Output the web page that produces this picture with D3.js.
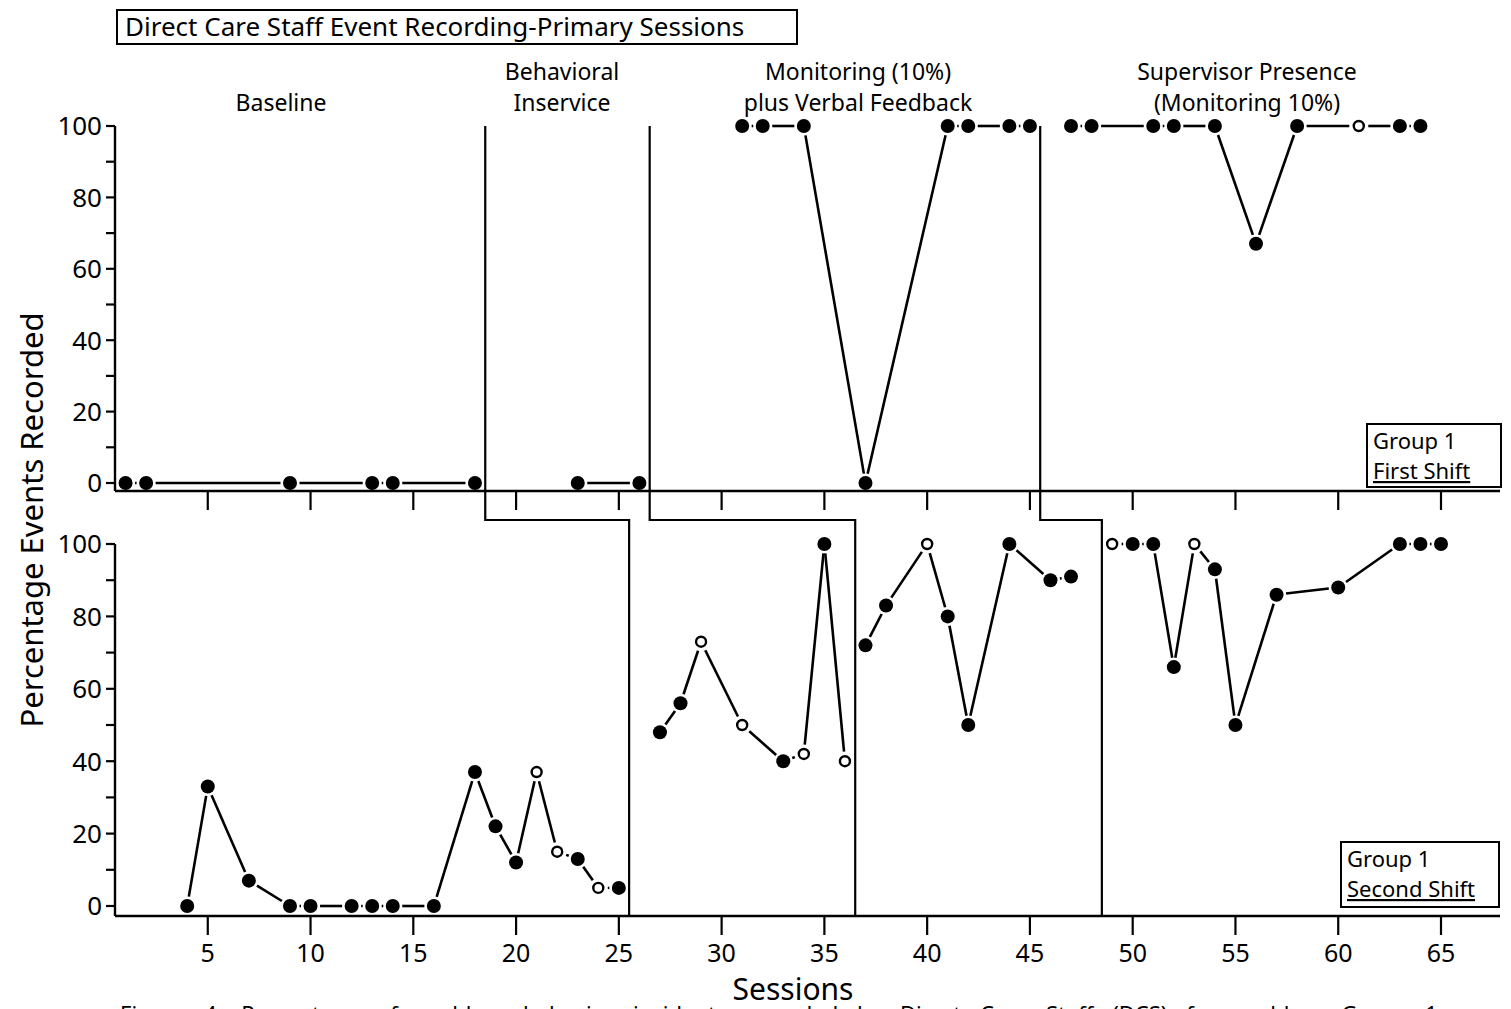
<!DOCTYPE html>
<html>
<head>
<meta charset="utf-8">
<script src="https://cdn.jsdelivr.net/npm/d3@7"></script>
<style>
  html, body { margin: 0; padding: 0; background: #fff; overflow: hidden; }
  svg { display: block; font-family: "Noto Sans", "DejaVu Sans", sans-serif; }
</style>
</head>
<body>
<div id="chart"></div>
<script>
// first shift (top panel)
const firstSessions = [1, 2, 9, 13, 14, 18, 23, 26, 31, 32, 34, 37, 41, 42, 44, 45, 47, 48, 51, 52, 54, 56, 58, 61, 63, 64];
const firstValues   = [0, 0, 0, 0, 0, 0, 0, 0, 100, 100, 100, 0, 100, 100, 100, 100, 100, 100, 100, 100, 100, 67, 100, 100, 100, 100];
const firstOpen     = [61];
const firstPhaseLines = [18.5, 26.5, 45.5];

// second shift (bottom panel)
const secondSessions = [4, 5, 7, 9, 10, 12, 13, 14, 16, 18, 19, 20, 21, 22, 23, 24, 25,
  27, 28, 29, 31, 33, 34, 35, 36,
  37, 38, 40, 41, 42, 44, 46, 47,
  49, 50, 51, 52, 53, 54, 55, 57, 60, 63, 64, 65];
const secondValues = [0, 33, 7, 0, 0, 0, 0, 0, 0, 37, 22, 12, 37, 15, 13, 5, 5,
  48, 56, 73, 50, 40, 42, 100, 40,
  72, 83, 100, 80, 50, 100, 90, 91,
  100, 100, 100, 66, 100, 93, 50, 86, 88, 100, 100, 100];
const secondOpen = [21, 22, 24, 29, 31, 34, 36, 40, 49, 53];
const secondPhaseLines = [25.5, 36.5, 48.5];

// phase titles
const phaseNames = [["Baseline"], ["Behavioral", "Inservice"], ["Monitoring (10%)", "plus Verbal Feedback"], ["Supervisor Presence", "(Monitoring 10%)"]];
const phaseCenters = [281, 562, 858, 1247];

const xTicks = [5, 10, 15, 20, 25, 30, 35, 40, 45, 50, 55, 60, 65];
const yTicks = [0, 10, 20, 30, 40, 50, 60, 70, 80, 90, 100];
const yLabels = [0, 20, 40, 60, 80, 100];

const width = 1511, height = 1009;
const axisLeft = 115, axisRight = 1500;
const jogY = 520;

const svg = d3.select("#chart").append("svg")
  .attr("width", width)
  .attr("height", height);

const x = d3.scaleLinear().domain([0, 65]).range([105, 1441]);
const yTop = d3.scaleLinear().domain([0, 100]).range([483, 126]);
const yBot = d3.scaleLinear().domain([0, 100]).range([906, 544]);

// title box
svg.append("rect")
  .attr("x", 117).attr("y", 10).attr("width", 680).attr("height", 34)
  .attr("fill", "none").attr("stroke", "#000").attr("stroke-width", 2);
svg.append("text")
  .attr("x", 125).attr("y", 36)
  .style("font-size", "26px")
  .text("Direct Care Staff Event Recording-Primary Sessions");

// phase titles
phaseNames.forEach((lines, i) => {
  const t = svg.append("text")
    .attr("text-anchor", "middle")
    .style("font-size", "23px");
  lines.forEach((l, j) => {
    t.append("tspan")
      .attr("x", phaseCenters[i])
      .attr("y", lines.length === 1 ? 111 : 80 + j * 31)
      .text(l);
  });
});

function drawAxes(y, bottomY, topY) {
  const g = svg.append("g");
  // y axis line
  g.append("line")
    .attr("x1", axisLeft).attr("x2", axisLeft)
    .attr("y1", topY).attr("y2", bottomY)
    .attr("stroke", "#000").attr("stroke-width", 2.4);
  // x axis line
  g.append("line")
    .attr("x1", axisLeft).attr("x2", axisRight)
    .attr("y1", bottomY).attr("y2", bottomY)
    .attr("stroke", "#000").attr("stroke-width", 2.4);
  g.selectAll(".ytick").data(yTicks).join("line")
    .attr("x1", axisLeft - 9).attr("x2", axisLeft)
    .attr("y1", d => y(d)).attr("y2", d => y(d))
    .attr("stroke", "#000").attr("stroke-width", 2.2);
  g.selectAll(".ylab").data(yLabels).join("text")
    .attr("x", axisLeft - 13).attr("y", d => y(d))
    .attr("dy", "0.36em")
    .attr("text-anchor", "end")
    .style("font-size", "26px")
    .text(d => d);
  g.selectAll(".xtick").data(xTicks).join("line")
    .attr("x1", d => x(d)).attr("x2", d => x(d))
    .attr("y1", bottomY).attr("y2", bottomY + 19)
    .attr("stroke", "#000").attr("stroke-width", 2.2);
}

drawAxes(yTop, 491, 126);
drawAxes(yBot, 916, 544);

// x tick labels (bottom only)
svg.selectAll(".xlab").data(xTicks).join("text")
  .attr("x", d => x(d)).attr("y", 962)
  .attr("text-anchor", "middle")
  .style("font-size", "25px")
  .text(d => d);

// axis titles
svg.append("text")
  .attr("x", 793).attr("y", 1000)
  .attr("text-anchor", "middle")
  .style("font-size", "30px")
  .text("Sessions");
svg.append("text")
  .attr("transform", "translate(43,520) rotate(-90)")
  .attr("text-anchor", "middle")
  .style("font-size", "31px")
  .text("Percentage Events Recorded");

// phase change lines (stepped between panels)
firstPhaseLines.forEach((p, i) => {
  const q = secondPhaseLines[i];
  svg.append("path")
    .attr("d", d3.line()([[x(p), yTop(100)], [x(p), jogY], [x(q), jogY], [x(q), 916]]))
    .attr("fill", "none").attr("stroke", "#000").attr("stroke-width", 2.2);
});

// data series
function drawSeries(sessions, values, open, phases, y) {
  const pts = sessions.map((s, i) => ({ s, v: values[i], open: open.includes(s) }));
  const segs = [];
  for (let i = 1; i < pts.length; i++) {
    const a = pts[i - 1], b = pts[i];
    if (phases.some(p => p > a.s && p < b.s)) continue;
    const x1 = x(a.s), y1 = y(a.v), x2 = x(b.s), y2 = y(b.v);
    const len = Math.hypot(x2 - x1, y2 - y1);
    const gap = 9.5;
    if (len <= gap * 2) continue;
    const ux = (x2 - x1) / len, uy = (y2 - y1) / len;
    segs.push([[x1 + ux * gap, y1 + uy * gap], [x2 - ux * gap, y2 - uy * gap]]);
  }
  svg.append("g").selectAll("path").data(segs).join("path")
    .attr("d", d => d3.line()(d))
    .attr("stroke", "#000").attr("stroke-width", 2.6).attr("fill", "none");
  svg.append("g").selectAll("circle").data(pts).join("circle")
    .attr("cx", d => x(d.s)).attr("cy", d => y(d.v))
    .attr("r", d => d.open ? 5 : 7)
    .attr("fill", d => d.open ? "#fff" : "#000")
    .attr("stroke", "#000")
    .attr("stroke-width", d => d.open ? 2.4 : 0);
}

drawSeries(firstSessions, firstValues, firstOpen, firstPhaseLines, yTop);
drawSeries(secondSessions, secondValues, secondOpen, secondPhaseLines, yBot);

// group boxes
function groupBox(bx, by, bw, bh, lines) {
  svg.append("rect")
    .attr("x", bx).attr("y", by).attr("width", bw).attr("height", bh)
    .attr("fill", "#fff").attr("stroke", "#000").attr("stroke-width", 2);
  lines.forEach((l, j) => {
    svg.append("text")
      .attr("x", bx + 6).attr("y", by + 25 + j * 30)
      .style("font-size", "22px")
      .style("text-decoration", j === 1 ? "underline" : null)
      .text(l);
  });
}
groupBox(1367, 424, 134, 63, ["Group 1", "First Shift"]);
groupBox(1341, 842, 158, 65, ["Group 1", "Second Shift"]);

// caption (cut off by the page edge, as in the original scan)
svg.append("text")
  .attr("x", 120).attr("y", 1022)
  .style("font-size", "22px")
  .style("word-spacing", "13px")
  .text("Figure 4. Percentage of problem behavior incidents recorded by Direct Care Staff (DCS) for problem Group 1.");
</script>
</body>
</html>
